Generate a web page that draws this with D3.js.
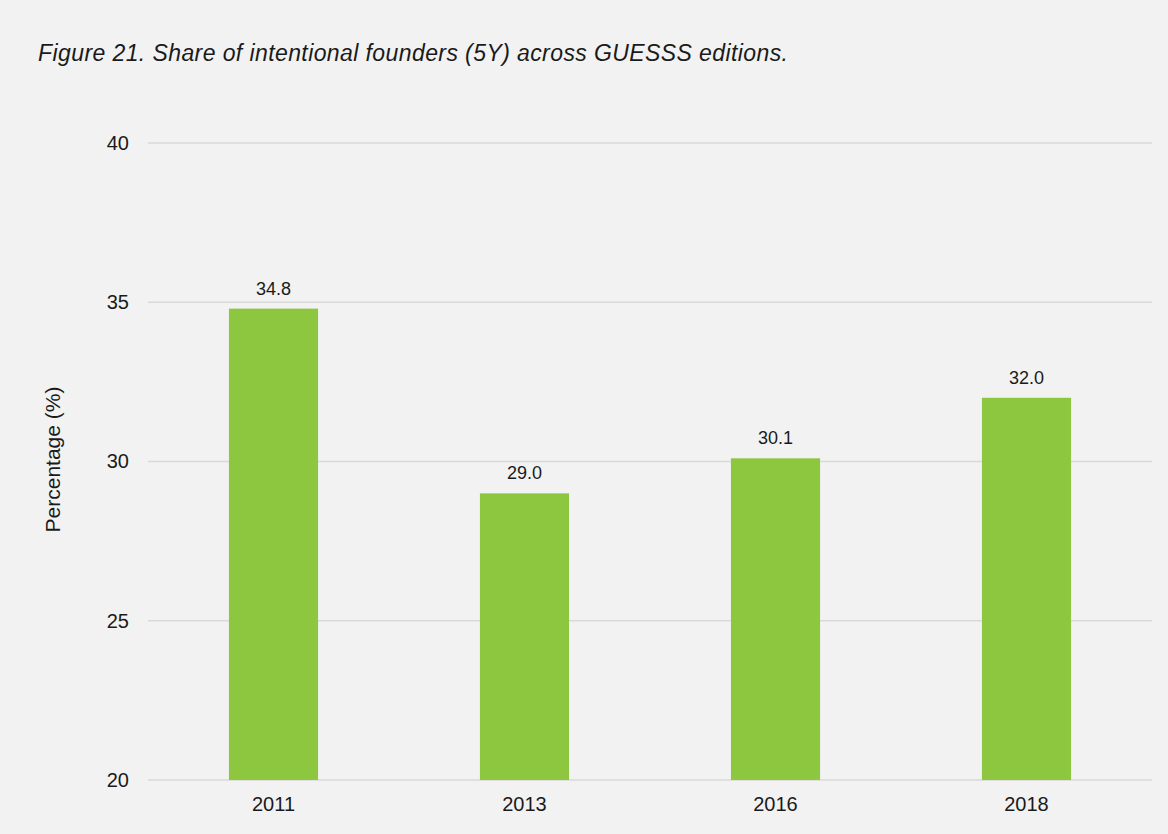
<!DOCTYPE html>
<html>
<head>
<meta charset="utf-8">
<script src="https://cdn.jsdelivr.net/npm/d3@7"></script>
<style>
  html, body { margin: 0; padding: 0; background: #f2f2f2; }
  svg { display: block; font-family: "Liberation Sans", Arial, sans-serif; }
</style>
</head>
<body>
<script>
// Share of intentional founders (5 years after studies) per GUESSS edition
const editions = ["2011", "2013", "2016", "2018"];
const shares = [34.8, 29.0, 30.1, 32.0];
const yTicks = [20, 25, 30, 35, 40];

const W = 1168, H = 834;
const margin = { left: 148, right: 16, top: 143, bottom: 54 };

const svg = d3.select("body").append("svg")
  .attr("width", W).attr("height", H);

svg.append("rect").attr("width", W).attr("height", H).attr("fill", "#f2f2f2");

const x = d3.scaleBand()
  .domain(editions)
  .range([margin.left, W - margin.right])
  .paddingInner(0.645)
  .paddingOuter(0.3225);

const y = d3.scaleLinear()
  .domain([20, 40])
  .range([H - margin.bottom, margin.top]);

// Title
svg.append("text")
  .attr("x", 38).attr("y", 61)
  .attr("font-size", 23)
  .attr("font-style", "italic")
  .attr("fill", "#1a1a1a")
  .attr("textLength", 750)
  .attr("lengthAdjust", "spacing")
  .text("Figure 21. Share of intentional founders (5Y) across GUESSS editions.");

// Gridlines
svg.append("g")
  .selectAll("line")
  .data(yTicks)
  .join("line")
  .attr("x1", margin.left).attr("x2", W - margin.right)
  .attr("y1", d => y(d)).attr("y2", d => y(d))
  .attr("stroke", "#d9d9d9").attr("stroke-width", 1.5);

// Y axis labels
const yAxis = d3.axisLeft(y).tickValues(yTicks).tickSize(0).tickPadding(19);
svg.append("g")
  .attr("transform", `translate(${margin.left},0)`)
  .call(yAxis)
  .call(g => g.select(".domain").remove())
  .call(g => g.selectAll("text")
    .attr("font-size", 20).attr("fill", "#1a1a1a")
    .attr("font-family", "Liberation Sans, Arial, sans-serif"));

// Bars
svg.append("g")
  .selectAll("rect")
  .data(editions)
  .join("rect")
  .attr("x", d => x(d))
  .attr("width", x.bandwidth())
  .attr("y", (d, i) => y(shares[i]))
  .attr("height", (d, i) => y(20) - y(shares[i]))
  .attr("fill", "#8dc63f");

// Value labels
svg.append("g")
  .selectAll("text")
  .data(editions)
  .join("text")
  .attr("x", d => x(d) + x.bandwidth() / 2)
  .attr("y", (d, i) => y(shares[i]) - 14)
  .attr("text-anchor", "middle")
  .attr("font-size", 18)
  .attr("fill", "#1a1a1a")
  .text((d, i) => shares[i].toFixed(1));

// X axis labels
const xAxis = d3.axisBottom(x).tickSize(0).tickPadding(17);
svg.append("g")
  .attr("transform", `translate(0,${y(20)})`)
  .call(xAxis)
  .call(g => g.select(".domain").remove())
  .call(g => g.selectAll("text")
    .attr("font-size", 20).attr("fill", "#1a1a1a")
    .attr("font-family", "Liberation Sans, Arial, sans-serif"));

// Y axis title
svg.append("text")
  .attr("transform", `translate(60,${(y(20) + y(40)) / 2 - 2}) rotate(-90)`)
  .attr("text-anchor", "middle")
  .attr("font-size", 21)
  .attr("fill", "#1a1a1a")
  .text("Percentage (%)");
</script>
</body>
</html>
